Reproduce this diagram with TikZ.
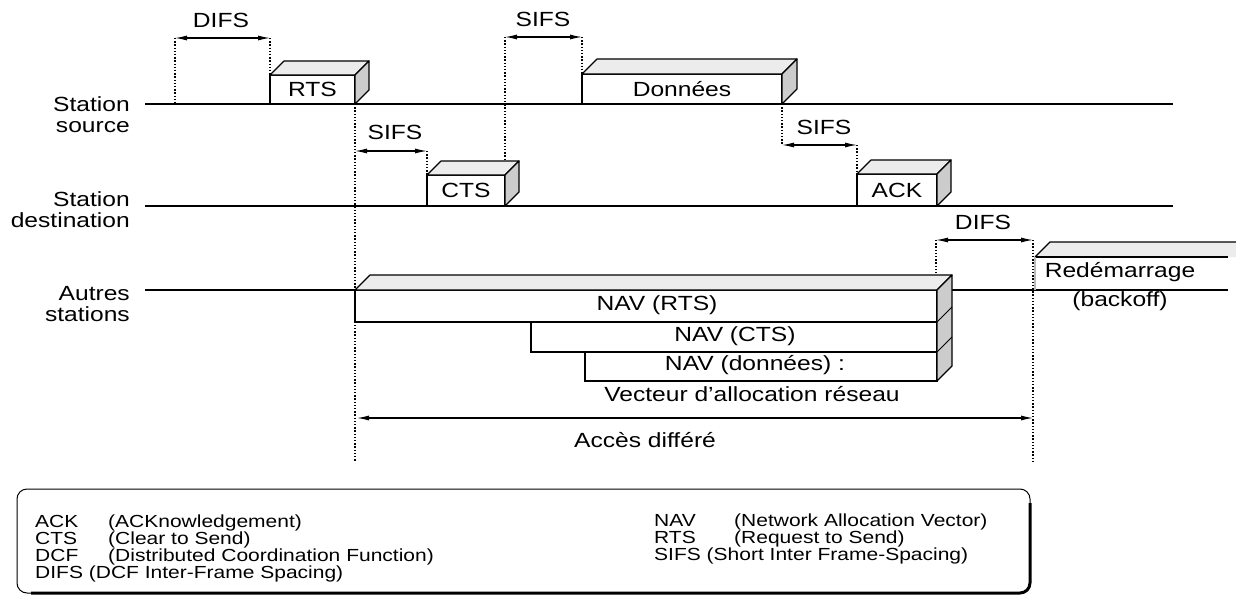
\documentclass[tikz,border=0pt]{standalone}
\usepackage{fontspec}
\setmainfont{Liberation Sans}[FakeStretch=1.2]
\usetikzlibrary{arrows.meta,calc}

% top and side faces of a frame drawn as a block: #1 node name, #2 depth
\newcommand\depthfaces[2]{%
  \draw[topface] (#1.north west) -- ++(#2,-#2) -- ($(#1.north east)+(#2,-#2)$) -- (#1.north east) -- cycle;
  \draw[sideface] (#1.north east) -- ++(#2,-#2) -- ($(#1.south east)+(#2,-#2)$) -- (#1.south east) -- cycle;}

\begin{document}
\begin{tikzpicture}[x=1pt,y=-1pt,
  axis/.style={line width=1.3pt},
  dotv/.style={line width=1.4pt, dash pattern=on 1.4pt off 1.8pt},
  dim/.style={line width=1.1pt, {Latex[length=12pt,width=5pt]}-{Latex[length=12pt,width=5pt]}},
  lbl/.style={font=\fontsize{20.5}{21}\selectfont, inner sep=0pt},
  leg/.style={font=\fontsize{17.5}{15}\selectfont, inner sep=0pt, anchor=west},
  frame/.style={draw, line width=1.2pt, fill=white, inner sep=0pt, outer sep=0pt,
    font=\fontsize{20.5}{21}\selectfont},
  topface/.style={draw, line width=1.2pt, fill=gray!15, line join=round},
  sideface/.style={draw, line width=1.2pt, fill=gray!40, line join=round},
]
\useasboundingbox (0,0) rectangle (1236,602);

% time lines of the three kinds of station
\coordinate (srcA) at (145,104); \coordinate (srcB) at (1173,104);
\coordinate (dstA) at (145,206); \coordinate (dstB) at (1173,206);
\coordinate (othA) at (145,290); \coordinate (othB) at (1228,290);
\draw[axis] (srcA) -- (srcB);
\draw[axis] (dstA) -- (dstB);
\draw[axis] (othA) -- (othB);

\node[lbl, align=right, anchor=east] (lsrc) at (130,115) {Station\\source};
\node[lbl, align=right, anchor=east] (ldst) at (130,210) {Station\\destination};
\node[lbl, align=right, anchor=east] (loth) at (130,304) {Autres\\stations};

% frames on the medium
\node[frame, minimum width=85pt, minimum height=29pt, anchor=south west] (rts) at (270,104) {RTS};
\depthfaces{rts}{14}
\node[frame, minimum width=200pt, minimum height=30pt, anchor=south west] (data) at (582,104) {Données};
\depthfaces{data}{15}
\node[frame, minimum width=78pt, minimum height=31pt, anchor=south west] (cts) at (427,206) {CTS};
\depthfaces{cts}{14}
\node[frame, minimum width=80pt, minimum height=32pt, anchor=south west] (ack) at (857,206) {ACK};
\depthfaces{ack}{14}

% network allocation vectors
\node[frame, minimum width=582pt, minimum height=32pt, anchor=north west] (navrts) at (355,290) {};
\node[frame, minimum width=406pt, minimum height=30pt, anchor=north east] (navcts) at (navrts.south east) {};
\node[frame, minimum width=352pt, minimum height=29pt, anchor=north east] (navdat) at (navcts.south east) {};
\draw[topface] (navrts.north west) -- ++(15,-15) -- ($(navrts.north east)+(15,-15)$) -- (navrts.north east) -- cycle;
\draw[sideface] (navrts.north east) -- ++(15,-15) -- ($(navdat.south east)+(15,-15)$) -- (navdat.south east) -- cycle;
\draw[line width=1pt] (navrts.south east) -- ++(15,-15);
\draw[line width=1pt] (navcts.south east) -- ++(15,-15);
\node[lbl] (tnavrts) at (657,305) {NAV (RTS)};
\node[lbl] (tnavcts) at (735,336) {NAV (CTS)};
\node[lbl] (tnavdat) at (755,365) {NAV (données) :};
\node[lbl] (tvect) at (752,394) {Vecteur d'allocation réseau};

% restart after the last DIFS
\coordinate (rsA) at (1035,257); \coordinate (rsB) at (1050,242);
\coordinate (rsC) at (1236,242); \coordinate (rsD) at (1228,257);
\fill[gray!15] (rsA) -- (rsB) -- (rsC) -- (1236,257) -- cycle;
\draw[line width=1.2pt] (rsA) -- (rsB) -- (rsC);
\draw[line width=1.2pt] (rsA) -- (rsD);
\draw[line width=2pt, gray!55] (rsA) -- (rsA |- othA);
\node[lbl] (trest) at (1120,272) {Redémarrage};
\node[lbl] (tback) at (1120,301) {(backoff)};

% intervals
\coordinate (difsA) at (175,38); \coordinate (difsB) at (270,38);
\draw[dim] (difsA) -- (difsB);
\node[lbl] (tdifs) at (221,20) {DIFS};
\draw[dotv] (difsA) -- (difsA |- srcA);
\draw[dotv] (difsB) -- (rts.north west);

\coordinate (sifsA) at (505,37); \coordinate (sifsB) at (582,37);
\draw[dim] (sifsA) -- (sifsB);
\node[lbl] (tsifs) at (543,19) {SIFS};
\draw[dotv] (sifsA) -- ($(cts.north east)+(0,-14)$);
\draw[dotv] (sifsB) -- (data.north west);

\coordinate (sifs2A) at (355,151); \coordinate (sifs2B) at (427,151);
\draw[dim] (sifs2A) -- (sifs2B);
\node[lbl] (tsifs2) at (395,132) {SIFS};
\coordinate (lowA) at (355,462);
\draw[dotv] (rts.south east) -- (lowA);
\draw[dotv] (sifs2B) -- (cts.north west);

\coordinate (sifs3A) at (782,145); \coordinate (sifs3B) at (857,145);
\draw[dim] (sifs3A) -- (sifs3B);
\node[lbl] (tsifs3) at (824,127) {SIFS};
\draw[dotv] (data.south east) -- (sifs3A);
\draw[dotv] (sifs3B) -- (ack.north west);

\coordinate (difs2A) at (936,240); \coordinate (difs2B) at (1033,240);
\draw[dim] (difs2A) -- (difs2B);
\node[lbl] (tdifs2) at (983,222) {DIFS};
\coordinate (lowB) at (1033,462);
\draw[dotv] (difs2A) -- (difs2A |- {$(navrts.north east)+(0,-15)$});
\draw[dotv] (difs2B) -- (lowB);

\coordinate (accA) at (357,418); \coordinate (accB) at (1033,418);
\draw[dim] (accA) -- (accB);
\node[lbl] (tacc) at (645,440) {Accès différé};

% legend
\node[draw, line width=1pt, rounded corners=10pt, minimum width=1013pt, minimum height=104pt,
  anchor=north west, inner sep=0pt, outer sep=0pt] (legend) at (17,489) {};
\draw[line width=3pt, rounded corners=10pt] ($(legend.north east)+(0,14)$) -- (legend.south east) -- ($(legend.south west)+(14,0)$);
\node[leg] (k1) at (35,523) {\makebox[73pt][l]{ACK}(ACKnowledgement)};
\node[leg] (k2) at (35,540) {\makebox[73pt][l]{CTS}(Clear to Send)};
\node[leg] (k3) at (35,557) {\makebox[73pt][l]{DCF}(Distributed Coordination Function)};
\node[leg] (k4) at (35,574) {DIFS (DCF Inter-Frame Spacing)};
\node[leg] (k5) at (654,522) {\makebox[80pt][l]{NAV}(Network Allocation Vector)};
\node[leg] (k6) at (654,539) {\makebox[80pt][l]{RTS}(Request to Send)};
\node[leg] (k7) at (654,556) {SIFS (Short Inter Frame-Spacing)};
\end{tikzpicture}
\end{document}
